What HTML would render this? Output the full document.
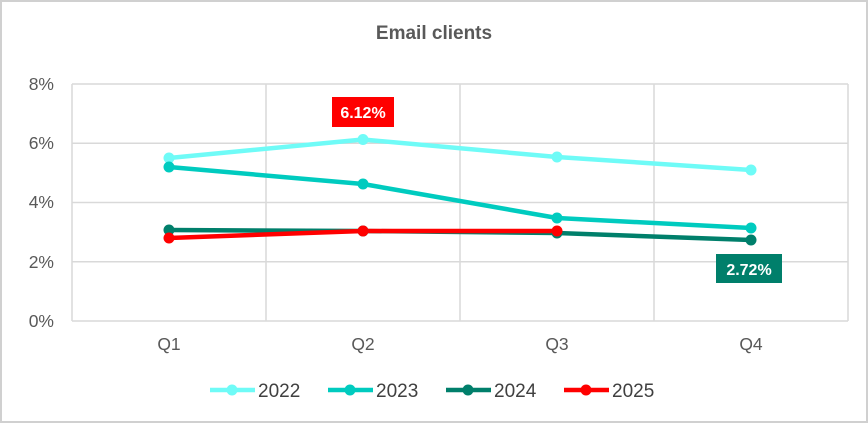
<!DOCTYPE html>
<html><head><style>
body{margin:0;background:#fff;}
svg{display:block;font-family:"Liberation Sans",sans-serif;}
</style></head><body>
<svg width="868" height="423" viewBox="0 0 868 423">
<rect x="1" y="1" width="866" height="421" fill="#fff" stroke="#d0d0d0" stroke-width="2"/>
<text x="434" y="39" text-anchor="middle" font-size="19" font-weight="bold" fill="#595959">Email clients</text>
<g stroke="#d9d9d9" stroke-width="1.5" fill="none">
<line x1="72" y1="84" x2="848" y2="84"/>
<line x1="72" y1="143.3" x2="848" y2="143.3"/>
<line x1="72" y1="202.5" x2="848" y2="202.5"/>
<line x1="72" y1="261.8" x2="848" y2="261.8"/>
<line x1="72" y1="321" x2="848" y2="321"/>
<line x1="72" y1="84" x2="72" y2="321"/>
<line x1="266" y1="84" x2="266" y2="321"/>
<line x1="460" y1="84" x2="460" y2="321"/>
<line x1="654" y1="84" x2="654" y2="321"/>
<line x1="848" y1="84" x2="848" y2="321"/>
</g>
<g font-size="17.5" fill="#595959" text-anchor="end">
<text x="54" y="90">8%</text><text x="54" y="149">6%</text><text x="54" y="208">4%</text><text x="54" y="268">2%</text><text x="54" y="327">0%</text>
</g>
<g font-size="17.5" fill="#595959" text-anchor="middle">
<text x="169" y="350">Q1</text><text x="363" y="350">Q2</text><text x="557" y="350">Q3</text><text x="751" y="350">Q4</text>
</g>
<g fill="none" stroke-width="4.5" stroke-linejoin="round">
<polyline stroke="#6ffbf7" points="169,158 363,139.5 557,157 751,170"/>
<polyline stroke="#00cbbf" points="169,167 363,184 557,218 751,228"/>
<polyline stroke="#007f6b" points="169,230 363,231 557,233 751,240"/>
<polyline stroke="#ff0000" points="169,238 363,231 557,231"/>
</g>
<g fill="#6ffbf7"><circle cx="169" cy="158" r="5.5"/><circle cx="363" cy="139.5" r="5.5"/><circle cx="557" cy="157" r="5.5"/><circle cx="751" cy="170" r="5.5"/></g>
<g fill="#00cbbf"><circle cx="169" cy="167" r="5.5"/><circle cx="363" cy="184" r="5.5"/><circle cx="557" cy="218" r="5.5"/><circle cx="751" cy="228" r="5.5"/></g>
<g fill="#007f6b"><circle cx="169" cy="230" r="5.5"/><circle cx="363" cy="231" r="5.5"/><circle cx="557" cy="233" r="5.5"/><circle cx="751" cy="240" r="5.5"/></g>
<g fill="#ff0000"><circle cx="169" cy="238" r="5.5"/><circle cx="363" cy="231" r="5.5"/><circle cx="557" cy="231" r="5.5"/></g>
<rect x="332" y="97" width="62" height="30" fill="#ff0000"/>
<text x="363" y="118" text-anchor="middle" font-size="16" font-weight="bold" fill="#fff">6.12%</text>
<rect x="716" y="254" width="66" height="29" fill="#007f6b"/>
<text x="749" y="275" text-anchor="middle" font-size="16" font-weight="bold" fill="#fff">2.72%</text>
<g stroke-width="4.5">
<line x1="210" y1="390" x2="255" y2="390" stroke="#6ffbf7"/><circle cx="232" cy="390" r="5.5" fill="#6ffbf7"/>
<line x1="328" y1="390" x2="373" y2="390" stroke="#00cbbf"/><circle cx="350" cy="390" r="5.5" fill="#00cbbf"/>
<line x1="446" y1="390" x2="491" y2="390" stroke="#007f6b"/><circle cx="468" cy="390" r="5.5" fill="#007f6b"/>
<line x1="564" y1="390" x2="609" y2="390" stroke="#ff0000"/><circle cx="586" cy="390" r="5.5" fill="#ff0000"/>
</g>
<g font-size="19" fill="#404040">
<text x="258" y="397">2022</text><text x="376" y="397">2023</text><text x="494" y="397">2024</text><text x="612" y="397">2025</text>
</g>
</svg>
</body></html>
